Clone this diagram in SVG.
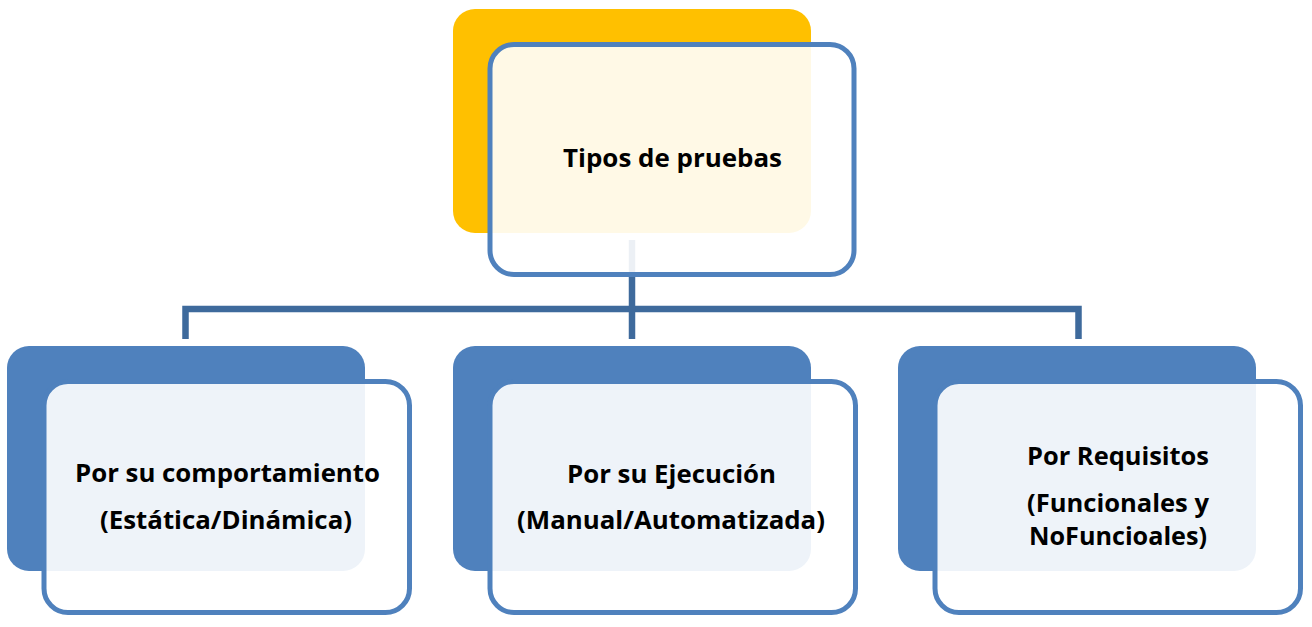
<svg xmlns="http://www.w3.org/2000/svg" width="1312" height="627" viewBox="0 0 1312 627">
<style>
.back-y{fill:#FFC000}
.back-b{fill:#4F81BD}
.front{fill:#FFFFFF;fill-opacity:0.9;stroke:#4F81BD;stroke-width:5}
.conn{fill:none;stroke:#3E6A9C;stroke-width:6.5;stroke-linejoin:miter;stroke-linecap:butt}
text{font-family:"Open Sans","Liberation Sans",sans-serif;font-weight:700;font-size:25.5px;fill:#000;text-anchor:middle}
</style>
<rect width="1312" height="627" fill="#FFFFFF"/>
<g id="connectors">
<path class="conn" d="M185.5,339 V309 H1078.5 V339"/>
<path class="conn" d="M632,240 V339"/>
</g>
<g id="node-top">
<rect class="back-y" x="453" y="9" width="358" height="224" rx="22"/>
<rect class="front" x="490" y="44.5" width="364" height="230" rx="24"/>
<text x="672.5" y="167" textLength="219" lengthAdjust="spacingAndGlyphs">Tipos de pruebas</text>
</g>
<g id="node-comportamiento">
<rect class="back-b" x="7" y="346" width="358" height="225" rx="22"/>
<rect class="front" x="44" y="381.5" width="365.5" height="231" rx="24"/>
<text x="227.5" y="482" textLength="305" lengthAdjust="spacingAndGlyphs">Por su comportamiento</text>
<text x="226" y="529" textLength="252" lengthAdjust="spacingAndGlyphs">(Estática/Dinámica)</text>
</g>
<g id="node-ejecucion">
<rect class="back-b" x="453" y="346" width="358" height="225" rx="22"/>
<rect class="front" x="490" y="381.5" width="365.5" height="231" rx="24"/>
<text x="671.5" y="483" textLength="209" lengthAdjust="spacingAndGlyphs">Por su Ejecución</text>
<text x="671" y="529" textLength="308" lengthAdjust="spacingAndGlyphs">(Manual/Automatizada)</text>
</g>
<g id="node-requisitos">
<rect class="back-b" x="898" y="346" width="358" height="225" rx="22"/>
<rect class="front" x="935" y="381.5" width="365.5" height="231" rx="24"/>
<text x="1118" y="465" textLength="182" lengthAdjust="spacingAndGlyphs">Por Requisitos</text>
<text x="1118" y="512" textLength="182" lengthAdjust="spacingAndGlyphs">(Funcionales y</text>
<text x="1118" y="545" textLength="178" lengthAdjust="spacingAndGlyphs">NoFuncioales)</text>
</g>
</svg>
